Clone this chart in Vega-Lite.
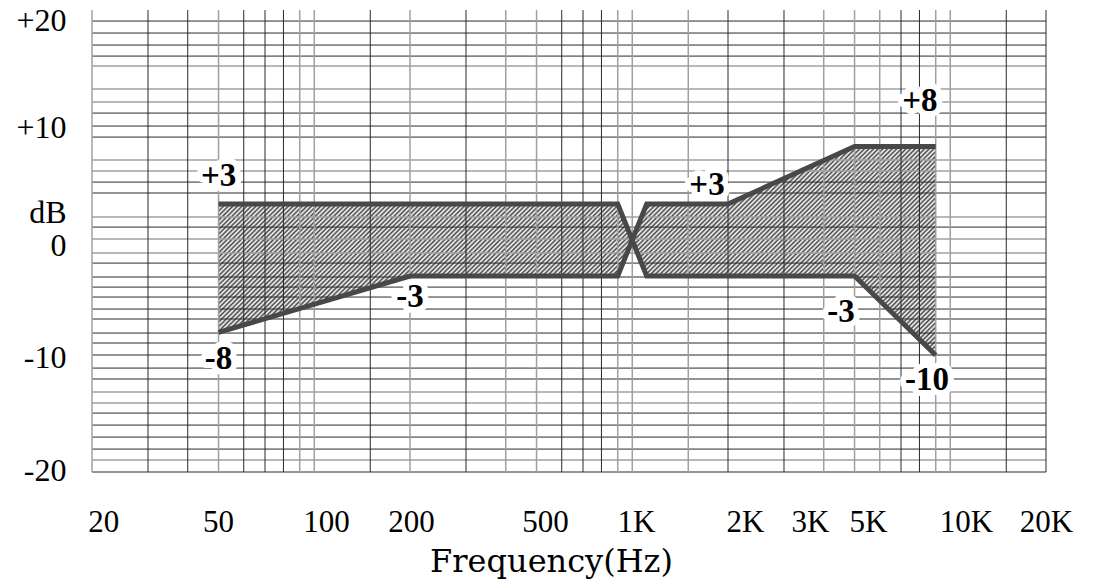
{
"$schema":"https://vega.github.io/schema/vega-lite/v6.json",
"width":954,"height":462,
"autosize":{"type":"none"},
"padding":{"left":92,"top":10,"right":47,"bottom":110},
"background":"white",
"config":{"view":{"stroke":null},
 "axis":{"domain":false,"ticks":false,"grid":false,"labelColor":"#000","labelFont":"Liberation Serif","labelOverlap":false,"labelFlush":false,"labelBound":false,"titleColor":"#000"},
 "axisX":{"labelFontSize":31,"labelPadding":35,"titleFont":"DejaVu Serif","titleFontSize":32,"titleFontWeight":"normal","titleX":459,"titleY":99,"titleBaseline":"alphabetic"},
 "axisY":{"labelFontSize":32,"labelPadding":26,"labelAlign":"right"}},
"datasets":{
"band":[{"f":50,"hi":3,"lo":-7.7},{"f":200,"hi":3,"lo":-3},{"f":900,"hi":3,"lo":-3},{"f":1000,"hi":0,"lo":0},{"f":1110,"hi":3,"lo":-3},{"f":2000,"hi":3,"lo":-3},{"f":5000,"hi":7.8,"lo":-3},{"f":9000,"hi":7.8,"lo":-9.6}],
"curves":[{"s":"a","f":50,"db":3},{"s":"a","f":900,"db":3},{"s":"a","f":1110,"db":-3},{"s":"a","f":5000,"db":-3},{"s":"a","f":9000,"db":-9.6},{"s":"b","f":50,"db":-7.7},{"s":"b","f":200,"db":-3},{"s":"b","f":900,"db":-3},{"s":"b","f":1110,"db":3},{"s":"b","f":2000,"db":3},{"s":"b","f":5000,"db":7.8},{"s":"b","f":9000,"db":7.8}],
"hdark":[{"db":18.25},{"db":17.25},{"db":16.25},{"db":15.33},{"db":10.58},{"db":9.5},{"db":8.58},{"db":4.83},{"db":3.92},{"db":1.08},{"db":-1.92},{"db":-3.08},{"db":-3.92},{"db":-4.75},{"db":-5.75},{"db":-6.58},{"db":-7.75},{"db":-8.58},{"db":-9.58},{"db":-10.67},{"db":-11.58},{"db":-14.42},{"db":-15.42},{"db":-16.42},{"db":-17.42},{"db":-19.33}],
"hlight":[{"db":14.5},{"db":12.58},{"db":11.5},{"db":6.67},{"db":5.75},{"db":1.92},{"db":0.08},{"db":-1.08},{"db":-12.67},{"db":-13.58},{"db":-18.33}],
"vdark":[{"f":30},{"f":40},{"f":60},{"f":70},{"f":80},{"f":150},{"f":300},{"f":600},{"f":700},{"f":800},{"f":2000},{"f":3000},{"f":7000},{"f":8000},{"f":15000},{"f":20000}],
"vlight":[{"f":20},{"f":50},{"f":90},{"f":100},{"f":200},{"f":400},{"f":500},{"f":900},{"f":1000},{"f":1500},{"f":4000},{"f":5000},{"f":6000},{"f":9000},{"f":10000}],
"notes":[{"t":"+3","f":50,"db":5.33},{"t":"-8","f":50,"db":-9.92},{"t":"-3","f":200,"db":-4.75},{"t":"+3","f":1718,"db":4.58},{"t":"+8","f":8030,"db":11.58},{"t":"-3","f":4532,"db":-6.0},{"t":"-10","f":8450,"db":-11.67}]
},
"layer":[
{"data":{"name":"band"},
 "mark":{"type":"area","interpolate":"linear","fill":{"gradient":"linear","x1":0,"y1":0,"x2":1.19,"y2":0.347,"stops":[
{"offset":0,"color":"#444"},{"offset":0.0025,"color":"#fff"},{"offset":0.005,"color":"#444"},{"offset":0.0075,"color":"#fff"},
{"offset":0.01,"color":"#444"},{"offset":0.0125,"color":"#fff"},{"offset":0.015,"color":"#444"},{"offset":0.0175,"color":"#fff"},
{"offset":0.02,"color":"#444"},{"offset":0.0225,"color":"#fff"},{"offset":0.025,"color":"#444"},{"offset":0.0275,"color":"#fff"},
{"offset":0.03,"color":"#444"},{"offset":0.0325,"color":"#fff"},{"offset":0.035,"color":"#444"},{"offset":0.0375,"color":"#fff"},
{"offset":0.04,"color":"#444"},{"offset":0.0425,"color":"#fff"},{"offset":0.045,"color":"#444"},{"offset":0.0475,"color":"#fff"},
{"offset":0.05,"color":"#444"},{"offset":0.0525,"color":"#fff"},{"offset":0.055,"color":"#444"},{"offset":0.0575,"color":"#fff"},
{"offset":0.06,"color":"#444"},{"offset":0.0625,"color":"#fff"},{"offset":0.065,"color":"#444"},{"offset":0.0675,"color":"#fff"},
{"offset":0.07,"color":"#444"},{"offset":0.0725,"color":"#fff"},{"offset":0.075,"color":"#444"},{"offset":0.0775,"color":"#fff"},
{"offset":0.08,"color":"#444"},{"offset":0.0825,"color":"#fff"},{"offset":0.085,"color":"#444"},{"offset":0.0875,"color":"#fff"},
{"offset":0.09,"color":"#444"},{"offset":0.0925,"color":"#fff"},{"offset":0.095,"color":"#444"},{"offset":0.0975,"color":"#fff"},
{"offset":0.1,"color":"#444"},{"offset":0.1025,"color":"#fff"},{"offset":0.105,"color":"#444"},{"offset":0.1075,"color":"#fff"},
{"offset":0.11,"color":"#444"},{"offset":0.1125,"color":"#fff"},{"offset":0.115,"color":"#444"},{"offset":0.1175,"color":"#fff"},
{"offset":0.12,"color":"#444"},{"offset":0.1225,"color":"#fff"},{"offset":0.125,"color":"#444"},{"offset":0.1275,"color":"#fff"},
{"offset":0.13,"color":"#444"},{"offset":0.1325,"color":"#fff"},{"offset":0.135,"color":"#444"},{"offset":0.1375,"color":"#fff"},
{"offset":0.14,"color":"#444"},{"offset":0.1425,"color":"#fff"},{"offset":0.145,"color":"#444"},{"offset":0.1475,"color":"#fff"},
{"offset":0.15,"color":"#444"},{"offset":0.1525,"color":"#fff"},{"offset":0.155,"color":"#444"},{"offset":0.1575,"color":"#fff"},
{"offset":0.16,"color":"#444"},{"offset":0.1625,"color":"#fff"},{"offset":0.165,"color":"#444"},{"offset":0.1675,"color":"#fff"},
{"offset":0.17,"color":"#444"},{"offset":0.1725,"color":"#fff"},{"offset":0.175,"color":"#444"},{"offset":0.1775,"color":"#fff"},
{"offset":0.18,"color":"#444"},{"offset":0.1825,"color":"#fff"},{"offset":0.185,"color":"#444"},{"offset":0.1875,"color":"#fff"},
{"offset":0.19,"color":"#444"},{"offset":0.1925,"color":"#fff"},{"offset":0.195,"color":"#444"},{"offset":0.1975,"color":"#fff"},
{"offset":0.2,"color":"#444"},{"offset":0.2025,"color":"#fff"},{"offset":0.205,"color":"#444"},{"offset":0.2075,"color":"#fff"},
{"offset":0.21,"color":"#444"},{"offset":0.2125,"color":"#fff"},{"offset":0.215,"color":"#444"},{"offset":0.2175,"color":"#fff"},
{"offset":0.22,"color":"#444"},{"offset":0.2225,"color":"#fff"},{"offset":0.225,"color":"#444"},{"offset":0.2275,"color":"#fff"},
{"offset":0.23,"color":"#444"},{"offset":0.2325,"color":"#fff"},{"offset":0.235,"color":"#444"},{"offset":0.2375,"color":"#fff"},
{"offset":0.24,"color":"#444"},{"offset":0.2425,"color":"#fff"},{"offset":0.245,"color":"#444"},{"offset":0.2475,"color":"#fff"},
{"offset":0.25,"color":"#444"},{"offset":0.2525,"color":"#fff"},{"offset":0.255,"color":"#444"},{"offset":0.2575,"color":"#fff"},
{"offset":0.26,"color":"#444"},{"offset":0.2625,"color":"#fff"},{"offset":0.265,"color":"#444"},{"offset":0.2675,"color":"#fff"},
{"offset":0.27,"color":"#444"},{"offset":0.2725,"color":"#fff"},{"offset":0.275,"color":"#444"},{"offset":0.2775,"color":"#fff"},
{"offset":0.28,"color":"#444"},{"offset":0.2825,"color":"#fff"},{"offset":0.285,"color":"#444"},{"offset":0.2875,"color":"#fff"},
{"offset":0.29,"color":"#444"},{"offset":0.2925,"color":"#fff"},{"offset":0.295,"color":"#444"},{"offset":0.2975,"color":"#fff"},
{"offset":0.3,"color":"#444"},{"offset":0.3025,"color":"#fff"},{"offset":0.305,"color":"#444"},{"offset":0.3075,"color":"#fff"},
{"offset":0.31,"color":"#444"},{"offset":0.3125,"color":"#fff"},{"offset":0.315,"color":"#444"},{"offset":0.3175,"color":"#fff"},
{"offset":0.32,"color":"#444"},{"offset":0.3225,"color":"#fff"},{"offset":0.325,"color":"#444"},{"offset":0.3275,"color":"#fff"},
{"offset":0.33,"color":"#444"},{"offset":0.3325,"color":"#fff"},{"offset":0.335,"color":"#444"},{"offset":0.3375,"color":"#fff"},
{"offset":0.34,"color":"#444"},{"offset":0.3425,"color":"#fff"},{"offset":0.345,"color":"#444"},{"offset":0.3475,"color":"#fff"},
{"offset":0.35,"color":"#444"},{"offset":0.3525,"color":"#fff"},{"offset":0.355,"color":"#444"},{"offset":0.3575,"color":"#fff"},
{"offset":0.36,"color":"#444"},{"offset":0.3625,"color":"#fff"},{"offset":0.365,"color":"#444"},{"offset":0.3675,"color":"#fff"},
{"offset":0.37,"color":"#444"},{"offset":0.3725,"color":"#fff"},{"offset":0.375,"color":"#444"},{"offset":0.3775,"color":"#fff"},
{"offset":0.38,"color":"#444"},{"offset":0.3825,"color":"#fff"},{"offset":0.385,"color":"#444"},{"offset":0.3875,"color":"#fff"},
{"offset":0.39,"color":"#444"},{"offset":0.3925,"color":"#fff"},{"offset":0.395,"color":"#444"},{"offset":0.3975,"color":"#fff"},
{"offset":0.4,"color":"#444"},{"offset":0.4025,"color":"#fff"},{"offset":0.405,"color":"#444"},{"offset":0.4075,"color":"#fff"},
{"offset":0.41,"color":"#444"},{"offset":0.4125,"color":"#fff"},{"offset":0.415,"color":"#444"},{"offset":0.4175,"color":"#fff"},
{"offset":0.42,"color":"#444"},{"offset":0.4225,"color":"#fff"},{"offset":0.425,"color":"#444"},{"offset":0.4275,"color":"#fff"},
{"offset":0.43,"color":"#444"},{"offset":0.4325,"color":"#fff"},{"offset":0.435,"color":"#444"},{"offset":0.4375,"color":"#fff"},
{"offset":0.44,"color":"#444"},{"offset":0.4425,"color":"#fff"},{"offset":0.445,"color":"#444"},{"offset":0.4475,"color":"#fff"},
{"offset":0.45,"color":"#444"},{"offset":0.4525,"color":"#fff"},{"offset":0.455,"color":"#444"},{"offset":0.4575,"color":"#fff"},
{"offset":0.46,"color":"#444"},{"offset":0.4625,"color":"#fff"},{"offset":0.465,"color":"#444"},{"offset":0.4675,"color":"#fff"},
{"offset":0.47,"color":"#444"},{"offset":0.4725,"color":"#fff"},{"offset":0.475,"color":"#444"},{"offset":0.4775,"color":"#fff"},
{"offset":0.48,"color":"#444"},{"offset":0.4825,"color":"#fff"},{"offset":0.485,"color":"#444"},{"offset":0.4875,"color":"#fff"},
{"offset":0.49,"color":"#444"},{"offset":0.4925,"color":"#fff"},{"offset":0.495,"color":"#444"},{"offset":0.4975,"color":"#fff"},
{"offset":0.5,"color":"#444"},{"offset":0.5025,"color":"#fff"},{"offset":0.505,"color":"#444"},{"offset":0.5075,"color":"#fff"},
{"offset":0.51,"color":"#444"},{"offset":0.5125,"color":"#fff"},{"offset":0.515,"color":"#444"},{"offset":0.5175,"color":"#fff"},
{"offset":0.52,"color":"#444"},{"offset":0.5225,"color":"#fff"},{"offset":0.525,"color":"#444"},{"offset":0.5275,"color":"#fff"},
{"offset":0.53,"color":"#444"},{"offset":0.5325,"color":"#fff"},{"offset":0.535,"color":"#444"},{"offset":0.5375,"color":"#fff"},
{"offset":0.54,"color":"#444"},{"offset":0.5425,"color":"#fff"},{"offset":0.545,"color":"#444"},{"offset":0.5475,"color":"#fff"},
{"offset":0.55,"color":"#444"},{"offset":0.5525,"color":"#fff"},{"offset":0.555,"color":"#444"},{"offset":0.5575,"color":"#fff"},
{"offset":0.56,"color":"#444"},{"offset":0.5625,"color":"#fff"},{"offset":0.565,"color":"#444"},{"offset":0.5675,"color":"#fff"},
{"offset":0.57,"color":"#444"},{"offset":0.5725,"color":"#fff"},{"offset":0.575,"color":"#444"},{"offset":0.5775,"color":"#fff"},
{"offset":0.58,"color":"#444"},{"offset":0.5825,"color":"#fff"},{"offset":0.585,"color":"#444"},{"offset":0.5875,"color":"#fff"},
{"offset":0.59,"color":"#444"},{"offset":0.5925,"color":"#fff"},{"offset":0.595,"color":"#444"},{"offset":0.5975,"color":"#fff"},
{"offset":0.6,"color":"#444"},{"offset":0.6025,"color":"#fff"},{"offset":0.605,"color":"#444"},{"offset":0.6075,"color":"#fff"},
{"offset":0.61,"color":"#444"},{"offset":0.6125,"color":"#fff"},{"offset":0.615,"color":"#444"},{"offset":0.6175,"color":"#fff"},
{"offset":0.62,"color":"#444"},{"offset":0.6225,"color":"#fff"},{"offset":0.625,"color":"#444"},{"offset":0.6275,"color":"#fff"},
{"offset":0.63,"color":"#444"},{"offset":0.6325,"color":"#fff"},{"offset":0.635,"color":"#444"},{"offset":0.6375,"color":"#fff"},
{"offset":0.64,"color":"#444"},{"offset":0.6425,"color":"#fff"},{"offset":0.645,"color":"#444"},{"offset":0.6475,"color":"#fff"},
{"offset":0.65,"color":"#444"},{"offset":0.6525,"color":"#fff"},{"offset":0.655,"color":"#444"},{"offset":0.6575,"color":"#fff"},
{"offset":0.66,"color":"#444"},{"offset":0.6625,"color":"#fff"},{"offset":0.665,"color":"#444"},{"offset":0.6675,"color":"#fff"},
{"offset":0.67,"color":"#444"},{"offset":0.6725,"color":"#fff"},{"offset":0.675,"color":"#444"},{"offset":0.6775,"color":"#fff"},
{"offset":0.68,"color":"#444"},{"offset":0.6825,"color":"#fff"},{"offset":0.685,"color":"#444"},{"offset":0.6875,"color":"#fff"},
{"offset":0.69,"color":"#444"},{"offset":0.6925,"color":"#fff"},{"offset":0.695,"color":"#444"},{"offset":0.6975,"color":"#fff"},
{"offset":0.7,"color":"#444"},{"offset":0.7025,"color":"#fff"},{"offset":0.705,"color":"#444"},{"offset":0.7075,"color":"#fff"},
{"offset":0.71,"color":"#444"},{"offset":0.7125,"color":"#fff"},{"offset":0.715,"color":"#444"},{"offset":0.7175,"color":"#fff"},
{"offset":0.72,"color":"#444"},{"offset":0.7225,"color":"#fff"},{"offset":0.725,"color":"#444"},{"offset":0.7275,"color":"#fff"},
{"offset":0.73,"color":"#444"},{"offset":0.7325,"color":"#fff"},{"offset":0.735,"color":"#444"},{"offset":0.7375,"color":"#fff"},
{"offset":0.74,"color":"#444"},{"offset":0.7425,"color":"#fff"},{"offset":0.745,"color":"#444"},{"offset":0.7475,"color":"#fff"},
{"offset":0.75,"color":"#444"},{"offset":0.7525,"color":"#fff"},{"offset":0.755,"color":"#444"},{"offset":0.7575,"color":"#fff"},
{"offset":0.76,"color":"#444"},{"offset":0.7625,"color":"#fff"},{"offset":0.765,"color":"#444"},{"offset":0.7675,"color":"#fff"},
{"offset":0.77,"color":"#444"},{"offset":0.7725,"color":"#fff"},{"offset":0.775,"color":"#444"},{"offset":0.7775,"color":"#fff"},
{"offset":0.78,"color":"#444"},{"offset":0.7825,"color":"#fff"},{"offset":0.785,"color":"#444"},{"offset":0.7875,"color":"#fff"},
{"offset":0.79,"color":"#444"},{"offset":0.7925,"color":"#fff"},{"offset":0.795,"color":"#444"},{"offset":0.7975,"color":"#fff"},
{"offset":0.8,"color":"#444"},{"offset":0.8025,"color":"#fff"},{"offset":0.805,"color":"#444"},{"offset":0.8075,"color":"#fff"},
{"offset":0.81,"color":"#444"},{"offset":0.8125,"color":"#fff"},{"offset":0.815,"color":"#444"},{"offset":0.8175,"color":"#fff"},
{"offset":0.82,"color":"#444"},{"offset":0.8225,"color":"#fff"},{"offset":0.825,"color":"#444"},{"offset":0.8275,"color":"#fff"},
{"offset":0.83,"color":"#444"},{"offset":0.8325,"color":"#fff"},{"offset":0.835,"color":"#444"},{"offset":0.8375,"color":"#fff"},
{"offset":0.84,"color":"#444"},{"offset":0.8425,"color":"#fff"},{"offset":0.845,"color":"#444"},{"offset":0.8475,"color":"#fff"},
{"offset":0.85,"color":"#444"},{"offset":0.8525,"color":"#fff"},{"offset":0.855,"color":"#444"},{"offset":0.8575,"color":"#fff"},
{"offset":0.86,"color":"#444"},{"offset":0.8625,"color":"#fff"},{"offset":0.865,"color":"#444"},{"offset":0.8675,"color":"#fff"},
{"offset":0.87,"color":"#444"},{"offset":0.8725,"color":"#fff"},{"offset":0.875,"color":"#444"},{"offset":0.8775,"color":"#fff"},
{"offset":0.88,"color":"#444"},{"offset":0.8825,"color":"#fff"},{"offset":0.885,"color":"#444"},{"offset":0.8875,"color":"#fff"},
{"offset":0.89,"color":"#444"},{"offset":0.8925,"color":"#fff"},{"offset":0.895,"color":"#444"},{"offset":0.8975,"color":"#fff"},
{"offset":0.9,"color":"#444"},{"offset":0.9025,"color":"#fff"},{"offset":0.905,"color":"#444"},{"offset":0.9075,"color":"#fff"},
{"offset":0.91,"color":"#444"},{"offset":0.9125,"color":"#fff"},{"offset":0.915,"color":"#444"},{"offset":0.9175,"color":"#fff"},
{"offset":0.92,"color":"#444"},{"offset":0.9225,"color":"#fff"},{"offset":0.925,"color":"#444"},{"offset":0.9275,"color":"#fff"},
{"offset":0.93,"color":"#444"},{"offset":0.9325,"color":"#fff"},{"offset":0.935,"color":"#444"},{"offset":0.9375,"color":"#fff"},
{"offset":0.94,"color":"#444"},{"offset":0.9425,"color":"#fff"},{"offset":0.945,"color":"#444"},{"offset":0.9475,"color":"#fff"},
{"offset":0.95,"color":"#444"},{"offset":0.9525,"color":"#fff"},{"offset":0.955,"color":"#444"},{"offset":0.9575,"color":"#fff"},
{"offset":0.96,"color":"#444"},{"offset":0.9625,"color":"#fff"},{"offset":0.965,"color":"#444"},{"offset":0.9675,"color":"#fff"},
{"offset":0.97,"color":"#444"},{"offset":0.9725,"color":"#fff"},{"offset":0.975,"color":"#444"},{"offset":0.9775,"color":"#fff"},
{"offset":0.98,"color":"#444"},{"offset":0.9825,"color":"#fff"},{"offset":0.985,"color":"#444"},{"offset":0.9875,"color":"#fff"},
{"offset":0.99,"color":"#444"},{"offset":0.9925,"color":"#fff"},{"offset":0.995,"color":"#444"},{"offset":0.9975,"color":"#fff"},
{"offset":1,"color":"#444"}]}},
 "encoding":{
  "x":{"field":"f","type":"quantitative","title":"Frequency(Hz)","scale":{"type":"log","domain":[20,20000],"nice":false},
   "axis":{"values":[21.7,49.8,108.8,201.4,531.6,1027.6,2262,3622,5512,11204,20000],
    "labelExpr":"datum.value < 30 ? '20' : datum.value < 70 ? '50' : datum.value < 150 ? '100' : datum.value < 300 ? '200' : datum.value < 700 ? '500' : datum.value < 1500 ? '1K' : datum.value < 3000 ? '2K' : datum.value < 4500 ? '3K' : datum.value < 8000 ? '5K' : datum.value < 15000 ? '10K' : '20K'"}},
  "y":{"field":"hi","type":"quantitative","title":null,"scale":{"domain":[-19.33,19.17],"nice":false,"zero":false},
   "axis":{"values":[18.33,9.42,2.3,-0.42,-9.75,-19.17],
    "labelExpr":"datum.value > 14 ? '+20' : datum.value > 5 ? '+10' : datum.value > 1 ? 'dB' : datum.value > -5 ? '0' : datum.value > -15 ? '-10' : '-20'"}},
  "y2":{"field":"lo"}
 }},
{"data":{"name":"hlight"},"mark":{"type":"rule","color":"#a0a0a0","strokeWidth":1.5},"encoding":{"y":{"field":"db","type":"quantitative","title":null}}},
{"data":{"name":"hdark"},"mark":{"type":"rule","color":"#2a2a2a","strokeWidth":1},"encoding":{"y":{"field":"db","type":"quantitative","title":null}}},
{"data":{"name":"vlight"},"mark":{"type":"rule","color":"#a0a0a0","strokeWidth":1.5},"encoding":{"x":{"field":"f","type":"quantitative","title":"Frequency(Hz)"}}},
{"data":{"name":"vdark"},"mark":{"type":"rule","color":"#2a2a2a","strokeWidth":1},"encoding":{"x":{"field":"f","type":"quantitative","title":"Frequency(Hz)"}}},
{"data":{"name":"curves"},"mark":{"type":"line","color":"#484848","strokeWidth":5,"strokeCap":"butt","strokeJoin":"miter"},
 "encoding":{"x":{"field":"f","type":"quantitative","title":"Frequency(Hz)"},"y":{"field":"db","type":"quantitative","title":null},"detail":{"field":"s"}}},
{"data":{"name":"notes"},"mark":{"type":"text","font":"Liberation Serif","fontWeight":"bold","fontSize":33,"align":"center","baseline":"middle","fill":"#fff","stroke":"#fff","strokeWidth":12,"strokeJoin":"round"},
 "encoding":{"x":{"field":"f","type":"quantitative","title":"Frequency(Hz)"},"y":{"field":"db","type":"quantitative","title":null},"text":{"field":"t"}}},
{"data":{"name":"notes"},"mark":{"type":"text","font":"Liberation Serif","fontWeight":"bold","fontSize":33,"align":"center","baseline":"middle","color":"#000"},
 "encoding":{"x":{"field":"f","type":"quantitative","title":"Frequency(Hz)"},"y":{"field":"db","type":"quantitative","title":null},"text":{"field":"t"}}}
]
}
